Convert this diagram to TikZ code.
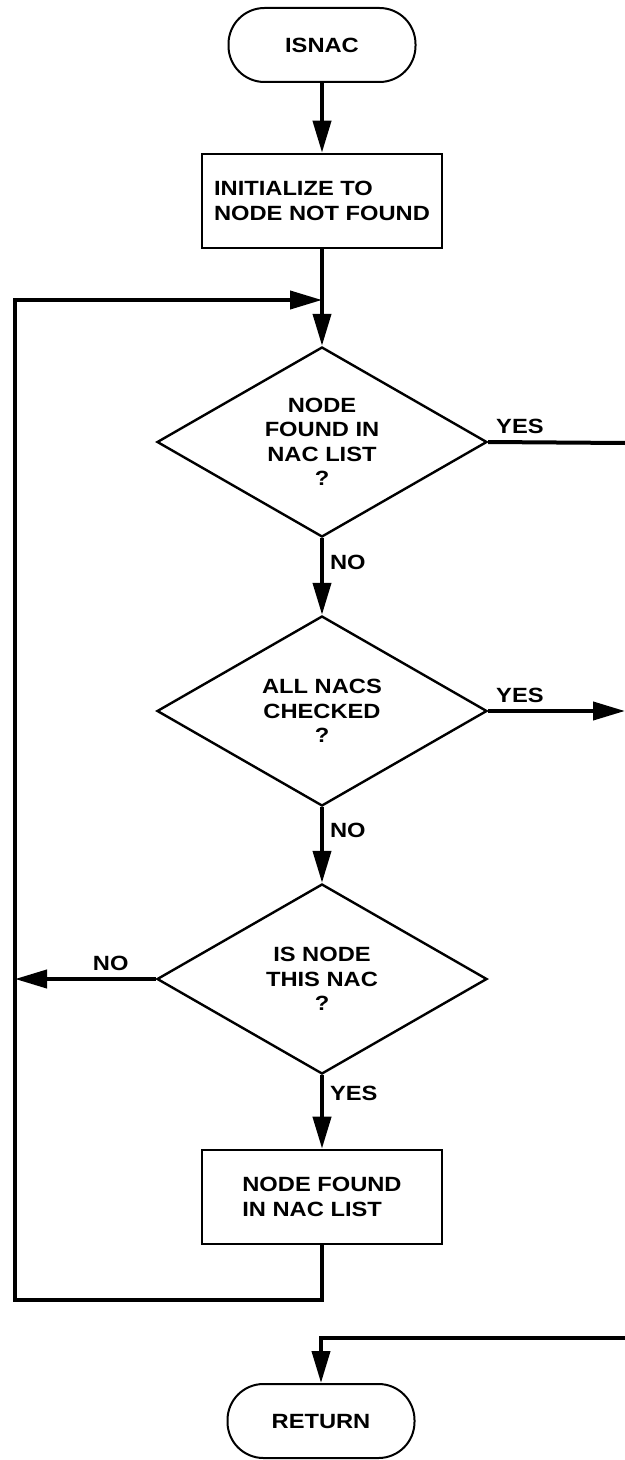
\documentclass[tikz,border=0pt]{standalone}
\usepackage{fontspec}
\setmainfont{Liberation Sans}[FakeStretch=1.15]
\usepackage{tikz}
\usetikzlibrary{shapes.geometric,arrows.meta,positioning,calc}

\begin{document}
\begin{tikzpicture}[x=0.5pt, y=-0.5pt, >={Triangle[length=16pt,width=9pt]},
    every node/.style={font=\fontsize{10.3}{12.25}\selectfont\bfseries},
    terminal/.style={draw, line width=1pt, rounded corners=18pt, minimum width=93.5pt, minimum height=37pt, inner sep=0pt},
    process/.style={draw, line width=1.3pt, minimum width=120pt, minimum height=47pt, align=left, inner sep=0pt},
    decision/.style={draw, diamond, aspect=1.74, line width=1.2pt, minimum width=165pt, minimum height=95pt, align=center, inner sep=0pt},
    flow/.style={line width=2pt},
    tag/.style={inner sep=3pt}]
    \useasboundingbox (0,0) rectangle (625,1460);

    % Main column
    \node[terminal] (isnac) at (322,45) {ISNAC};
    \node[process] (init) at (322,201) {INITIALIZE TO\\NODE NOT FOUND};
    \node[decision] (inlist) at (322,442) {NODE\\FOUND IN\\NAC LIST\\?};
    \node[decision] (allchk) at (322,711) {ALL NACS\\CHECKED\\?};
    \node[decision] (thisnac) at (322,979) {IS NODE\\THIS NAC\\?};
    \node[process] (found) at (322,1197) {NODE FOUND\\IN NAC LIST};
    \node[terminal] (ret) at (321,1421) {RETURN};

    % Loop corners and off-page ends
    \coordinate (join) at (322,300);
    \coordinate (loopbl) at (15,1300);
    \coordinate (yesout) at (625,443);
    \coordinate (doneout) at (625,711);
    \coordinate (retin) at (625,1338);

    % Flow lines
    \draw[flow,->] (isnac) -- (init);
    \draw[flow,->] (init) -- (inlist);
    \draw[flow] (inlist.east) -- node[tag, pos=0, anchor=south west] {YES} (yesout);
    \draw[flow,->] (inlist) -- node[tag, pos=0.31, anchor=west] {NO} (allchk);
    \draw[flow,->] (allchk.east) -- node[tag, pos=0, anchor=south west] {YES} (doneout);
    \draw[flow,->] (allchk) -- node[tag, pos=0.31, anchor=west] {NO} (thisnac);
    \draw[flow,->] (thisnac.west) -- node[tag, pos=0.32, anchor=south] {NO} (thisnac.west -| loopbl);
    \draw[flow,->] (thisnac) -- node[tag, pos=0.25, anchor=west] {YES} (found);

    % Back to the top of the search
    \draw[flow,->] (found) |- (loopbl) |- (join);

    % Exit
    \draw[flow,->] (retin) -| (ret);
\end{tikzpicture}
\end{document}
